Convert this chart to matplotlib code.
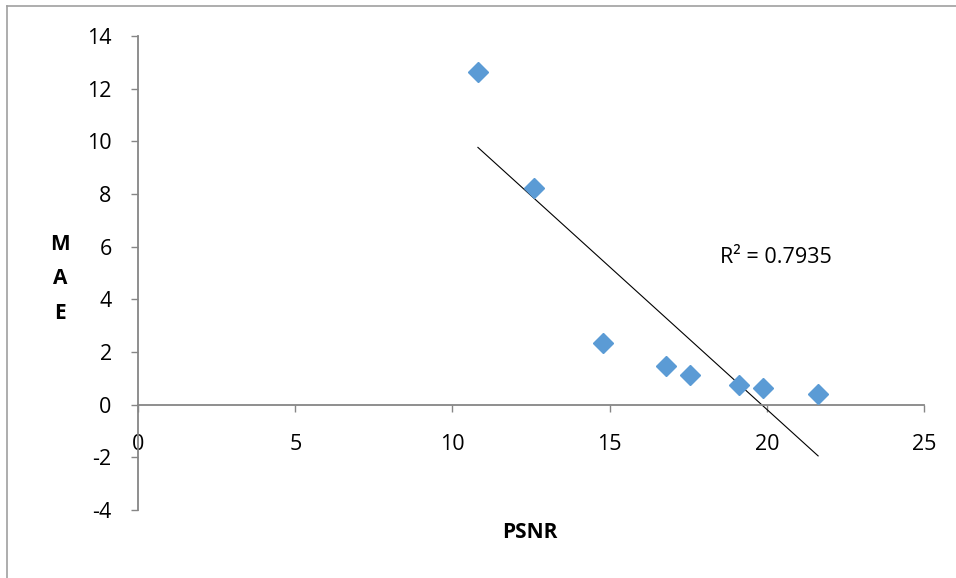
import numpy as np
import matplotlib
matplotlib.use("Agg")
import matplotlib.pyplot as plt

# data
psnr = [10.81, 12.6, 14.78, 16.78, 17.56, 19.12, 19.88, 21.63]
mae = [12.63, 8.23, 2.35, 1.48, 1.12, 0.76, 0.63, 0.42]
r2_label = "R² = 0.7935"

x_ticks = [0, 5, 10, 15, 20, 25]
y_ticks = [-4, -2, 0, 2, 4, 6, 8, 10, 12, 14]

plt.rcParams['font.family'] = ['Open Sans', 'DejaVu Sans']
plt.rcParams['axes.unicode_minus'] = False

fig = plt.figure(figsize=(9.56, 5.78), dpi=100)
ax = fig.add_axes([0.1444, 0.1176, 0.8222, 0.8201])

# linear trendline like excel
slope, icpt = np.polyfit(psnr, mae, 1)
xs = np.array([min(psnr), max(psnr)])
ax.plot(xs, slope * xs + icpt, color='black', lw=0.8, zorder=2)

ax.plot(psnr, mae, linestyle='none', marker='D', markersize=10,
        color='#5B9BD5', markeredgecolor='#5B9BD5', zorder=3)

ax.set_xlim(0, 25)
ax.set_ylim(-4, 14)
ax.set_xticks(x_ticks)
ax.set_yticks(y_ticks)

gray = '#868686'
for s in ['top', 'right']:
    ax.spines[s].set_visible(False)
ax.spines['left'].set_position(('data', 0))
ax.spines['bottom'].set_position(('data', 0))
ax.spines['left'].set_color(gray)
ax.spines['bottom'].set_color(gray)
ax.spines['left'].set_linewidth(1.3)
ax.spines['bottom'].set_linewidth(1.3)

ax.tick_params(axis='y', direction='out', length=5, color=gray, width=1, labelsize=15.5, pad=14)
ax.tick_params(axis='x', direction='out', length=5, color=gray, width=1, labelsize=15.5, pad=16)

ax.text(18.5, 5.6, r2_label, fontsize=15.5, ha='left', va='center')

fig.text(530 / 956, 1 - 532 / 578, 'PSNR', fontsize=15, fontweight='bold', ha='center', va='center')
fig.text(60 / 956, 1 - 279 / 578, 'M\nA\nE', fontsize=15, fontweight='bold', ha='center', va='center',
         linespacing=1.85)

# outer chart border (top and left only visible)
fig.add_artist(plt.Line2D([7 / 956, 1], [1 - 6 / 578, 1 - 6 / 578], transform=fig.transFigure,
                          color='#a0a0a0', lw=1.2))
fig.add_artist(plt.Line2D([7 / 956, 7 / 956], [0, 1 - 6 / 578], transform=fig.transFigure,
                          color='#a0a0a0', lw=1.2))

fig.savefig('out.png', dpi=100)
